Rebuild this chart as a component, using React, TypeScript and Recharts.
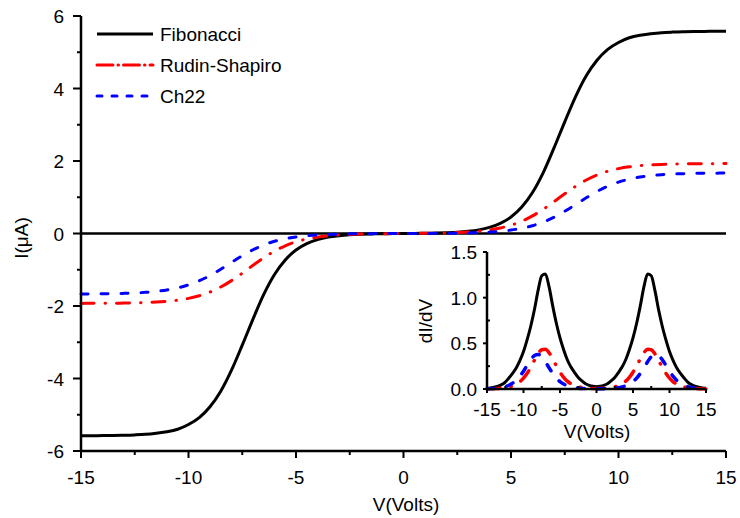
import React from 'react';
import { ComposedChart, Line, XAxis, YAxis, ReferenceLine } from 'recharts';

// bias voltage grid (V)
const voltage = [
  -15, -14.5, -14, -13.5, -13, -12.5, -12, -11.5, -11, -10.5, -10, -9.5, -9, -8.5, -8, -7.5, -7, -6.5, -6, -5.5,
  -5, -4.5, -4, -3.5, -3, -2.5, -2, -1.5, -1, -0.5, 0, 0.5, 1, 1.5, 2, 2.5, 3, 3.5, 4, 4.5, 5, 5.5, 6, 6.5, 7, 7.5,
  8, 8.5, 9, 9.5, 10, 10.5, 11, 11.5, 12, 12.5, 13, 13.5, 14, 14.5, 15,
];

// current I (uA)
const fibonacciI = [
  -5.578, -5.577, -5.575, -5.572, -5.566, -5.556, -5.54, -5.51, -5.47, -5.4, -5.27, -5.08, -4.78, -4.35, -3.77, -3.08,
  -2.36, -1.68, -1.13, -0.73, -0.455, -0.278, -0.169, -0.1, -0.06, -0.035, -0.021, -0.012, -0.006, -0.003, 0, 0.003,
  0.006, 0.012, 0.021, 0.035, 0.06, 0.1, 0.169, 0.278, 0.455, 0.73, 1.13, 1.68, 2.36, 3.08, 3.77, 4.35, 4.78, 5.08,
  5.27, 5.4, 5.47, 5.51, 5.54, 5.556, 5.566, 5.572, 5.575, 5.577, 5.578,
];
const rudinShapiroI = [
  -1.928, -1.927, -1.926, -1.924, -1.92, -1.914, -1.905, -1.892, -1.871, -1.839, -1.789, -1.718, -1.615, -1.476, -1.3,
  -1.096, -0.878, -0.668, -0.486, -0.339, -0.23, -0.153, -0.1, -0.065, -0.041, -0.026, -0.016, -0.01, -0.006, -0.003,
  0, 0.003, 0.006, 0.01, 0.016, 0.026, 0.041, 0.065, 0.1, 0.153, 0.23, 0.339, 0.486, 0.668, 0.878, 1.096, 1.3, 1.476,
  1.615, 1.718, 1.789, 1.839, 1.871, 1.892, 1.905, 1.914, 1.92, 1.924, 1.926, 1.927, 1.928,
];
const ch22I = [
  -1.667, -1.665, -1.662, -1.658, -1.651, -1.64, -1.623, -1.597, -1.558, -1.5, -1.418, -1.304, -1.159, -0.985, -0.797,
  -0.613, -0.449, -0.316, -0.215, -0.144, -0.094, -0.061, -0.039, -0.025, -0.016, -0.01, -0.006, -0.004, -0.002,
  -0.001, 0, 0.001, 0.002, 0.004, 0.006, 0.01, 0.016, 0.025, 0.039, 0.061, 0.094, 0.144, 0.215, 0.316, 0.449, 0.613,
  0.797, 0.985, 1.159, 1.304, 1.418, 1.5, 1.558, 1.597, 1.623, 1.64, 1.651, 1.658, 1.662, 1.665, 1.667,
];

// conductance dI/dV (inset)
const fibonacciG = [
  0.008, 0.012, 0.019, 0.031, 0.048, 0.076, 0.12, 0.17, 0.23, 0.31, 0.41, 0.54, 0.69, 0.87, 1.08, 1.24, 1.26, 1.12,
  0.91, 0.72, 0.56, 0.43, 0.32, 0.24, 0.18, 0.125, 0.088, 0.057, 0.04, 0.03, 0.026, 0.03, 0.04, 0.057, 0.088, 0.125,
  0.18, 0.24, 0.32, 0.43, 0.56, 0.72, 0.91, 1.12, 1.26, 1.24, 1.08, 0.87, 0.69, 0.54, 0.41, 0.31, 0.23, 0.17, 0.12,
  0.076, 0.048, 0.031, 0.019, 0.012, 0.008,
];
const rudinShapiroG = [
  0.001, 0.002, 0.004, 0.006, 0.009, 0.014, 0.022, 0.034, 0.053, 0.079, 0.119, 0.172, 0.239, 0.315, 0.385, 0.43,
  0.435, 0.397, 0.33, 0.254, 0.184, 0.128, 0.086, 0.057, 0.037, 0.024, 0.016, 0.01, 0.007, 0.006, 0.005, 0.006, 0.007,
  0.01, 0.016, 0.024, 0.037, 0.057, 0.086, 0.128, 0.184, 0.254, 0.33, 0.397, 0.435, 0.43, 0.385, 0.315, 0.239, 0.172,
  0.119, 0.079, 0.053, 0.034, 0.022, 0.014, 0.009, 0.006, 0.004, 0.002, 0.001,
];
const ch22G = [
  0.003, 0.005, 0.007, 0.011, 0.017, 0.027, 0.041, 0.064, 0.095, 0.139, 0.195, 0.26, 0.322, 0.367, 0.379, 0.353,
  0.298, 0.233, 0.171, 0.119, 0.081, 0.054, 0.035, 0.023, 0.014, 0.009, 0.006, 0.004, 0.003, 0.002, 0.002, 0.002,
  0.003, 0.004, 0.006, 0.009, 0.014, 0.023, 0.035, 0.054, 0.081, 0.119, 0.171, 0.233, 0.298, 0.353, 0.379, 0.367,
  0.322, 0.26, 0.195, 0.139, 0.095, 0.064, 0.041, 0.027, 0.017, 0.011, 0.007, 0.005, 0.003,
];

const vTicks = [-15, -12.5, -10, -7.5, -5, -2.5, 0, 2.5, 5, 7.5, 10, 12.5, 15];
const iTicks = [-6, -5, -4, -3, -2, -1, 0, 1, 2, 3, 4, 5, 6];
const gTicks = [0, 0.25, 0.5, 0.75, 1, 1.25, 1.5];

const seriesNames = ['Fibonacci', 'Rudin-Shapiro', 'Ch22'];

const rows = voltage.map((v, i) => ({
  v,
  fib: fibonacciI[i],
  rs: rudinShapiroI[i],
  ch: ch22I[i],
  fibG: fibonacciG[i],
  rsG: rudinShapiroG[i],
  chG: ch22G[i],
}));

const FONT = '"Liberation Sans", Arial, Helvetica, sans-serif';
const RED = '#ff0000';
const BLUE = '#0000ff';
const RED_DASH = '13 11 0.5 11';
const BLUE_DASH = '7 13';

const isMajorV = (v: number) => v % 5 === 0;
const isMajorI = (v: number) => v % 2 === 0;
const isMajorG = (v: number) => Math.abs((v * 2) % 1) < 1e-9;

// ---- main chart ticks ----
const MainBottomTick = ({ x, y, payload }: any) => {
  const v = payload.value;
  const major = isMajorV(v);
  return (
    <g>
      <line x1={x} y1={y} x2={x} y2={y + (major ? 7 : 4)} stroke="#000" strokeWidth={2} />
      {major && (
        <text x={x} y={y + 33} textAnchor="middle" fontSize={19} fill="#000">
          {v}
        </text>
      )}
    </g>
  );
};

const MainLeftTick = ({ x, y, payload }: any) => {
  const v = payload.value;
  const major = isMajorI(v);
  return (
    <g>
      <line x1={x} y1={y} x2={x - (major ? 8 : 4)} y2={y} stroke="#000" strokeWidth={2} />
      {major && (
        <text x={x - 17} y={y + 7} textAnchor="end" fontSize={19} fill="#000">
          {v}
        </text>
      )}
    </g>
  );
};

const MainTopTick = ({ x, y }: any) => <line x1={x} y1={y} x2={x} y2={y - 3} stroke="#000" strokeWidth={2} />;
const MainRightTick = ({ x, y }: any) => <line x1={x} y1={y} x2={x + 3} y2={y} stroke="#000" strokeWidth={2} />;

// ---- inset ticks ----
const InsetBottomTick = ({ x, y, payload }: any) => {
  const v = payload.value;
  const major = isMajorV(v);
  return (
    <g>
      <line x1={x} y1={y} x2={x} y2={major ? y + 4 : y - 3} stroke="#000" strokeWidth={2} />
      {major && (
        <text x={x} y={y + 27} textAnchor="middle" fontSize={19} fill="#000">
          {v}
        </text>
      )}
    </g>
  );
};

const InsetLeftTick = ({ x, y, payload }: any) => {
  const v = payload.value;
  const major = isMajorG(v);
  return (
    <g>
      <line x1={x} y1={y} x2={major ? x - 4 : x + 3} y2={y} stroke="#000" strokeWidth={2} />
      {major && (
        <text x={x - 10} y={y + 7} textAnchor="end" fontSize={19} fill="#000">
          {v.toFixed(1)}
        </text>
      )}
    </g>
  );
};

// axis titles: own prop names so the axis label props do not override them
const Title = ({ tx, ty, text, rotate }: any) => (
  <text
    x={tx}
    y={ty}
    textAnchor="middle"
    fontSize={19}
    fill="#000"
    transform={rotate ? `rotate(-90 ${tx} ${ty})` : undefined}
  >
    {text}
  </text>
);

const frame = { stroke: '#000', strokeWidth: 2.5 };

function LegendBox() {
  const styles = [
    { stroke: '#000', dash: undefined },
    { stroke: RED, dash: '16 5 0.5 5' },
    { stroke: BLUE, dash: '5 10' },
  ];
  return (
    <svg width={220} height={100} style={{ position: 'absolute', left: 90, top: 18 }}>
      {seriesNames.map((name, i) => {
        const cy = 16 + i * 31;
        return (
          <g key={name}>
            <line
              x1={7}
              x2={63}
              y1={cy}
              y2={cy}
              stroke={styles[i].stroke}
              strokeWidth={3}
              strokeDasharray={styles[i].dash}
              strokeLinecap={i === 0 ? 'butt' : 'round'}
            />
            <text x={70} y={cy + 7} fontSize={19} fill="#000" fontFamily={FONT}>
              {name}
            </text>
          </g>
        );
      })}
    </svg>
  );
}

export default function App() {
  return (
    <div style={{ position: 'absolute', left: 0, top: 0, width: 740, height: 518, background: '#fff', fontFamily: FONT }}>
      <ComposedChart width={740} height={518} data={rows} margin={{ top: 16, right: 14, bottom: 0, left: 0 }}>
        <XAxis
          dataKey="v"
          type="number"
          domain={[-15, 15]}
          ticks={vTicks}
          interval={0}
          height={67}
          tickSize={0}
          tickMargin={0}
          tickLine={false}
          axisLine={frame}
          tick={MainBottomTick}
          label={<Title tx={406} ty={511} text="V(Volts)" />}
        />
        <XAxis
          xAxisId="top"
          orientation="top"
          dataKey="v"
          type="number"
          domain={[-15, 15]}
          ticks={vTicks}
          interval={0}
          height={0}
          tickSize={0}
          tickMargin={0}
          tickLine={false}
          axisLine={frame}
          tick={MainTopTick}
        />
        <YAxis
          type="number"
          domain={[-6, 6]}
          ticks={iTicks}
          interval={0}
          width={81}
          tickSize={0}
          tickMargin={0}
          tickLine={false}
          axisLine={frame}
          tick={MainLeftTick}
          label={<Title tx={28} ty={238} text="I(μA)" rotate />}
        />
        <YAxis
          yAxisId="right"
          orientation="right"
          type="number"
          domain={[-6, 6]}
          ticks={iTicks}
          interval={0}
          width={0}
          tickSize={0}
          tickMargin={0}
          tickLine={false}
          axisLine={frame}
          tick={MainRightTick}
        />
        <ReferenceLine y={0} stroke="#000" strokeWidth={2.5} />
        <Line dataKey="fib" type="monotone" stroke="#000" strokeWidth={3} dot={false} isAnimationActive={false} />
        <Line
          dataKey="rs"
          type="monotone"
          stroke={RED}
          strokeWidth={3}
          strokeDasharray={RED_DASH}
          strokeLinecap="round"
          dot={false}
          isAnimationActive={false}
        />
        <Line
          dataKey="ch"
          type="monotone"
          stroke={BLUE}
          strokeWidth={3}
          strokeDasharray={BLUE_DASH}
          strokeLinecap="round"
          dot={false}
          isAnimationActive={false}
        />
      </ComposedChart>

      <LegendBox />

      <div style={{ position: 'absolute', left: 400, top: 240 }}>
        <ComposedChart width={320} height={205} data={rows} margin={{ top: 12, right: 14, bottom: 0, left: 0 }}>
          <XAxis
            dataKey="v"
            type="number"
            domain={[-15, 15]}
            ticks={vTicks}
            interval={0}
            height={56}
            tickSize={0}
            tickMargin={0}
            tickLine={false}
            axisLine={frame}
            tick={InsetBottomTick}
            label={<Title tx={197} ty={198} text="V(Volts)" />}
          />
          <XAxis
            xAxisId="top"
            orientation="top"
            dataKey="v"
            type="number"
            domain={[-15, 15]}
            height={0}
            tick={false}
            tickLine={false}
            axisLine={frame}
          />
          <YAxis
            type="number"
            domain={[0, 1.5]}
            ticks={gTicks}
            interval={0}
            width={87}
            tickSize={0}
            tickMargin={0}
            tickLine={false}
            axisLine={frame}
            tick={InsetLeftTick}
            label={<Title tx={32} ty={81} text="dI/dV" rotate />}
          />
          <YAxis
            yAxisId="right"
            orientation="right"
            type="number"
            domain={[0, 1.5]}
            width={0}
            tick={false}
            tickLine={false}
            axisLine={frame}
          />
          <Line dataKey="fibG" type="monotone" stroke="#000" strokeWidth={3} dot={false} isAnimationActive={false} />
          <Line
            dataKey="rsG"
            type="monotone"
            stroke={RED}
            strokeWidth={3.5}
            strokeDasharray={RED_DASH}
            strokeLinecap="round"
            dot={false}
            isAnimationActive={false}
          />
          <Line
            dataKey="chG"
            type="monotone"
            stroke={BLUE}
            strokeWidth={3.5}
            strokeDasharray={BLUE_DASH}
            strokeLinecap="round"
            dot={false}
            isAnimationActive={false}
          />
        </ComposedChart>
      </div>
    </div>
  );
}
